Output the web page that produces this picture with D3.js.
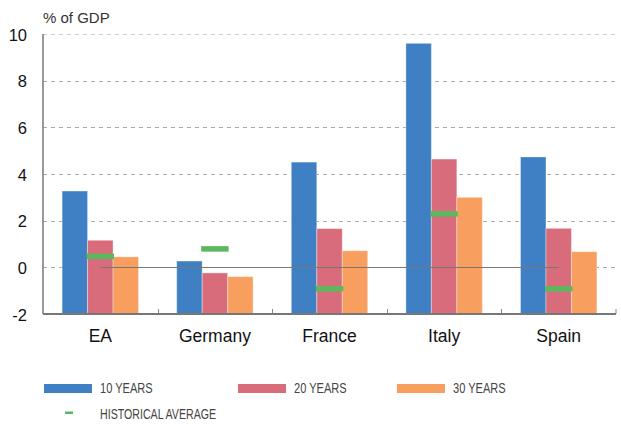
<!DOCTYPE html>
<html>
<head>
<meta charset="utf-8">
<script src="https://cdn.jsdelivr.net/npm/d3@7"></script>
<style>
  body { margin: 0; background: #fff; }
  text { font-family: "Liberation Sans", Arial, sans-serif; fill: #111; }
</style>
</head>
<body>
<div id="chart"></div>
<script>
// Width and height
var width  = 621;
var height = 424;

// data
var countries = ["EA", "Germany", "France", "Italy", "Spain"];
var series    = ["10 YEARS", "20 YEARS", "30 YEARS"];
var tenYears    = [3.27, 0.27, 4.51, 9.6, 4.73];
var twentyYears = [1.16, -0.24, 1.66, 4.64, 1.67];
var thirtyYears = [0.45, -0.4, 0.71, 3.0, 0.67];
var histAverage = [0.47, 0.79, -0.92, 2.29, -0.92];
var yTicks = [-2, 0, 2, 4, 6, 8, 10];

var colours = ["#3f7fc4", "#d86c7b", "#f89f60"];
var green = "#5cb85f";

var margin = {left: 43, right: 5, top: 34, bottom: 110};

var svg = d3.select("#chart")
    .append("svg")
    .attr("width", width)
    .attr("height", height);

var x = d3.scaleBand()
    .domain(countries)
    .range([margin.left, width - margin.right]);

var x1 = d3.scaleBand()
    .domain(series)
    .range([0, x.bandwidth()])
    .paddingOuter(0.75)
    .paddingInner(0);

var y = d3.scaleLinear()
    .domain([-2, 10])
    .range([height - margin.bottom, margin.top]);

// gridlines
svg.append("g")
    .selectAll("line")
    .data(yTicks.filter(function(d){ return d > -2; }))
    .enter()
    .append("line")
    .attr("x1", margin.left)
    .attr("x2", width - margin.right)
    .attr("y1", function(d){ return Math.round(y(d)) + 0.5; })
    .attr("y2", function(d){ return Math.round(y(d)) + 0.5; })
    .style("stroke", function(d){ return d == 10 ? "#cfcfcf" : "#aaa"; })
    .style("stroke-width", "1px")
    .style("stroke-dasharray", "4,4");

// bars (drawn up from the bottom of the axis)
var table = countries.map(function(c, i){
    return {country: c, values: [tenYears[i], twentyYears[i], thirtyYears[i]], hist: histAverage[i]};
});

var groups = svg.append("g")
    .selectAll("g")
    .data(table)
    .enter()
    .append("g")
    .attr("transform", function(d){ return "translate(" + x(d.country) + ",0)"; });

groups.selectAll("rect")
    .data(function(d){ return d.values.map(function(v, j){ return {s: series[j], v: v, j: j}; }); })
    .enter()
    .append("rect")
    .attr("x", function(d){ return x1(d.s); })
    .attr("width", x1.bandwidth())
    .attr("y", function(d){ return y(d.v); })
    .attr("height", function(d){ return y(-2) - y(d.v); })
    .style("fill", function(d){ return colours[d.j]; })
    .style("stroke", "rgba(255,255,255,0.35)")
    .style("stroke-width", "1px");

// zero line
svg.append("line")
    .attr("x1", x(countries[0]) + x.bandwidth() / 2)
    .attr("x2", x(countries[countries.length - 1]) + x.bandwidth() / 2)
    .attr("y1", Math.round(y(0)) + 0.5)
    .attr("y2", Math.round(y(0)) + 0.5)
    .style("stroke", "#777")
    .style("stroke-width", "1px");

// historical average markers
groups.append("rect")
    .attr("x", x1(series[1]) - 1)
    .attr("width", x1.bandwidth() + 2)
    .attr("y", function(d){ return y(d.hist) - 2.75; })
    .attr("height", 5.5)
    .style("fill", green);

// axes
var xAxis = svg.append("g")
    .attr("transform", "translate(0," + y(-2) + ")")
    .call(d3.axisBottom(x).tickSize(0).tickPadding(16));
xAxis.select(".domain").remove();
xAxis.selectAll("text")
    .style("font-size", "17.5px")
    .style("font-family", "Liberation Sans, Arial, sans-serif")
    .style("fill", "#111");

svg.append("g")
    .selectAll("line")
    .data(countries.slice(1))
    .enter()
    .append("line")
    .attr("x1", function(d){ return Math.round(x(d)) + 0.5; })
    .attr("x2", function(d){ return Math.round(x(d)) + 0.5; })
    .attr("y1", y(-2) - 5)
    .attr("y2", y(-2))
    .style("stroke", "#888")
    .style("stroke-width", "1px");
svg.append("line")
    .attr("x1", width - margin.right)
    .attr("x2", width - margin.right)
    .attr("y1", y(-2) - 5)
    .attr("y2", y(-2))
    .style("stroke", "#888");

svg.append("line")
    .attr("x1", margin.left)
    .attr("x2", width - margin.right)
    .attr("y1", y(-2))
    .attr("y2", y(-2))
    .style("stroke", "#777")
    .style("stroke-width", "2px");

svg.append("line")
    .attr("x1", margin.left)
    .attr("x2", margin.left)
    .attr("y1", y(10))
    .attr("y2", y(-2))
    .style("stroke", "#777")
    .style("stroke-width", "1.5px");

svg.append("g")
    .selectAll("text")
    .data(yTicks)
    .enter()
    .append("text")
    .attr("x", 27)
    .attr("y", function(d){ return y(d) + 6.5; })
    .attr("text-anchor", "end")
    .style("font-size", "16.5px")
    .text(function(d){ return d; });

svg.append("text")
    .attr("x", 43)
    .attr("y", 23)
    .style("font-size", "15px")
    .style("fill", "#333")
    .text("% of GDP");

// legend
var legendX = [44, 238, 397];
var legend = svg.append("g");
series.forEach(function(s, i){
    legend.append("rect")
        .attr("x", legendX[i])
        .attr("y", 384)
        .attr("width", 48)
        .attr("height", 9)
        .style("fill", colours[i]);
    legend.append("text")
        .attr("transform", "translate(" + (legendX[i] + 56) + ",393) scale(0.79,1)")
        .style("font-size", "14px")
        .style("fill", "#444")
        .text(s);
});
legend.append("rect")
    .attr("x", 65)
    .attr("y", 411.5)
    .attr("width", 8)
    .attr("height", 2.5)
    .style("fill", green);
legend.append("text")
    .attr("transform", "translate(100,419) scale(0.76,1)")
    .style("font-size", "14px")
    .style("fill", "#444")
    .text("HISTORICAL AVERAGE");
</script>
</body>
</html>
